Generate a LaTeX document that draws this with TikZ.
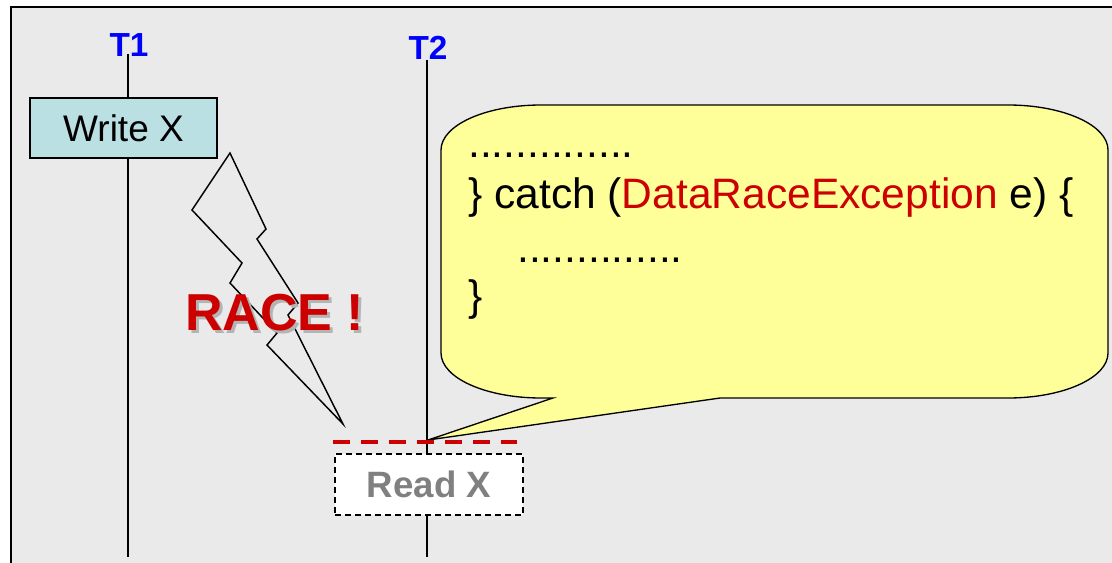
\documentclass[tikz,border=0pt]{standalone}
\usepackage{fontspec}
\setmainfont{Liberation Sans}
\definecolor{panelgray}{HTML}{EAEAEA}
\definecolor{opblue}{HTML}{BBE0E3}
\definecolor{noteyellow}{HTML}{FFFF99}
\definecolor{racered}{HTML}{CC0000}
\definecolor{threadblue}{HTML}{0000FF}
\definecolor{readgray}{HTML}{808080}
\definecolor{shadowgray}{HTML}{B4B4B4}
\begin{document}
\begin{tikzpicture}[x=0.75pt,y=-0.75pt,
  threadlabel/.style={text=threadblue,font=\bfseries\fontsize{25}{25}\selectfont,inner sep=0pt,anchor=base},
  lifeline/.style={draw=black,line width=1pt},
  opbox/.style={draw=black,line width=1.3pt,fill=opblue,minimum width=140.25pt,minimum height=45pt,inner sep=0pt,font=\fontsize{27.75}{27.75}\selectfont},
  pendingbox/.style={draw=black,line width=1pt,dash pattern=on 4.5pt off 3pt,fill=white,minimum width=141pt,minimum height=45.75pt,inner sep=0pt,text=readgray,font=\bfseries\fontsize{27.5}{27.5}\selectfont},
  codeline/.style={anchor=base west,inner sep=0pt,font=\fontsize{31.9}{31.9}\selectfont},
  racetext/.style={anchor=base west,inner sep=0pt,font=\bfseries\fontsize{39}{39}\selectfont}
]
\useasboundingbox (0,0) rectangle (1112,563);
% panel background and its frame
\fill[white] (0,0) rectangle (1112,563);
\fill[panelgray] (11,7) rectangle (1112,563);
\draw[line width=1.5pt] (11,563) -- (11,7) -- (1112,7);

% thread labels and lifelines
\node[threadlabel] (t1lab) at (129,57) {T1};
\node[threadlabel] (t2lab) at (428,60) {T2};
\coordinate (t1start) at (128,54);
\coordinate (t1end) at (128,557);
\coordinate (t2start) at (427,60);
\coordinate (t2end) at (427,557);
\draw[lifeline] (t1start) -- (t1end);
\draw[lifeline] (t2start) -- (t2end);

% operations
\node[opbox] (write) at (123.5,128) {Write X};
\node[pendingbox] (read) at (429,484.5) {Read X};

% lightning bolt
\draw[line width=1.1pt,line join=miter]
  (230,153) -- (266,229) -- (257,239) -- (298,303) -- (288,315) -- (343,424)
  -- (267,345) -- (277,333) -- (230,283) -- (242,263) -- (192,210) -- cycle;

% race label with its drop shadow
\node[racetext] (race) at (185,330)
  {\makebox[0pt][l]{\hspace{2.25pt}\raisebox{-2.25pt}{\textcolor{shadowgray}{RACE !}}}\textcolor{racered}{RACE !}};

% speech callout pointing at the read on T2
\coordinate (tip) at (428,440);
\draw[line width=1pt,fill=noteyellow,line join=miter]
  (541,105) -- (1008,105)
  .. controls (1063.2,105) and (1108,125.1) .. (1108,150) -- (1108,353)
  .. controls (1108,377.9) and (1063.2,398) .. (1008,398) -- (720,398)
  -- (tip) -- (553,398) -- (541,398)
  .. controls (485.8,398) and (441,377.9) .. (441,353) -- (441,150)
  .. controls (441,125.1) and (485.8,105) .. (541,105) -- cycle;
\node[codeline] (code1) at (468,157) {..............};
\node[codeline] (code2) at (468,208) {\} catch (\textcolor{racered}{DataRaceException} e) \{};
\node[codeline] (code3) at (517,262) {..............};
\node[codeline] (code4) at (468,310) {\}};

% point of the race on T2
\coordinate (raceA) at (333,442);
\coordinate (raceB) at (517,442);
\draw[racered,line width=3pt,dash pattern=on 12.5pt off 8.5pt] (raceA) -- (raceB);
\end{tikzpicture}
\end{document}
